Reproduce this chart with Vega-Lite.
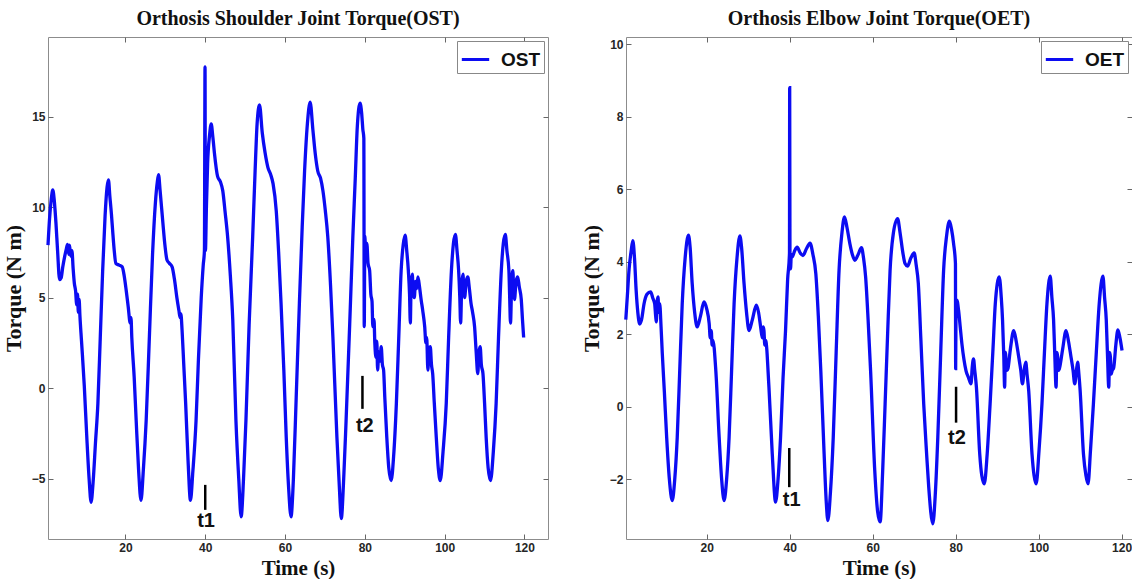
{
  "$schema": "https://vega.github.io/schema/vega-lite/v6.json",
  "padding": {"left": 1, "top": 8, "right": 0, "bottom": 0},
  "spacing": 30,
  "background": "white",
  "resolve": {"scale": {"color": "independent"}, "legend": {"color": "independent"}},
  "config": {
    "view": {"stroke": "#8c8c8c", "strokeWidth": 1},
    "axis": {"labelFont": "Liberation Sans", "labelFontWeight": "bold", "labelFontSize": 12, "labelColor": "#262626", "titleFont": "Liberation Serif", "titleFontWeight": "bold", "titleFontSize": 21, "titleColor": "#111111", "domain": false, "grid": false, "tickColor": "#666666", "tickSize": -5, "labelPadding": 8},
    "axisLeft": {"titleFontSize": 22},
    "title": {"font": "Liberation Serif", "fontWeight": "bold", "fontSize": 20, "color": "#111111", "offset": 8},
    "legend": {"title": null, "orient": "top-right", "offset": 4, "padding": 3, "strokeColor": "#888888", "fillColor": "white", "symbolType": "stroke", "symbolSize": 750, "symbolStrokeWidth": 3, "labelFont": "Liberation Sans", "labelFontWeight": "bold", "labelFontSize": 19, "labelColor": "#111111", "labelOffset": 10}
  },
  "datasets": {
    "ost": [
      {"t":0.6,"v":7.9},{"t":1.0,"v":9.4},{"t":1.4,"v":10.4},{"t":1.8,"v":10.95},{"t":2.2,"v":10.3},{"t":2.6,"v":9.1},{"t":3.0,"v":7.6},{"t":3.5,"v":6.0},{"t":3.9,"v":6.1},{"t":4.3,"v":6.7},{"t":4.8,"v":7.3},{"t":5.2,"v":7.7},{"t":5.5,"v":7.95},{"t":5.8,"v":7.4},{"t":6.0,"v":7.9},{"t":6.3,"v":7.3},{"t":6.6,"v":7.6},{"t":6.9,"v":6.6},{"t":7.2,"v":5.8},{"t":7.5,"v":5.4},{"t":7.8,"v":4.6},{"t":8.0,"v":5.2},{"t":8.2,"v":4.2},{"t":8.4,"v":4.9},{"t":8.6,"v":4.0},{"t":9.0,"v":2.6},{"t":9.7,"v":0.1},{"t":10.3,"v":-2.6},{"t":10.9,"v":-5.0},{"t":11.4,"v":-6.3},{"t":11.9,"v":-5.2},{"t":12.5,"v":-3.0},{"t":13.1,"v":-0.85},{"t":13.7,"v":2.8},{"t":14.3,"v":6.5},{"t":14.9,"v":9.5},{"t":15.4,"v":11.1},{"t":15.75,"v":11.5},{"t":16.1,"v":10.6},{"t":16.5,"v":9.6},{"t":16.8,"v":8.7},{"t":17.2,"v":7.6},{"t":17.6,"v":6.9},{"t":18.4,"v":6.8},{"t":19.2,"v":6.7},{"t":19.7,"v":6.2},{"t":20.2,"v":5.4},{"t":20.7,"v":4.5},{"t":21.2,"v":3.6},{"t":21.4,"v":3.9},{"t":21.6,"v":2.8},{"t":22.2,"v":0.6},{"t":22.7,"v":-1.8},{"t":23.3,"v":-4.5},{"t":23.9,"v":-6.2},{"t":24.5,"v":-4.5},{"t":25.2,"v":-1.8},{"t":26.0,"v":2.8},{"t":26.8,"v":7.4},{"t":27.5,"v":10.2},{"t":28.0,"v":11.4},{"t":28.3,"v":11.8},{"t":28.7,"v":10.9},{"t":29.4,"v":9.1},{"t":29.9,"v":7.9},{"t":30.4,"v":7.1},{"t":31.0,"v":6.9},{"t":31.7,"v":6.7},{"t":32.3,"v":6.0},{"t":32.9,"v":5.0},{"t":33.4,"v":4.3},{"t":33.7,"v":3.9},{"t":33.9,"v":4.1},{"t":34.2,"v":3.2},{"t":34.6,"v":1.4},{"t":35.1,"v":-0.85},{"t":35.7,"v":-4.0},{"t":36.3,"v":-6.2},{"t":36.9,"v":-4.6},{"t":37.7,"v":-1.8},{"t":38.3,"v":1.6},{"t":39.0,"v":5.0},{"t":39.5,"v":6.8},{"t":39.8,"v":7.6},{"t":39.95,"v":17.75},{"t":40.05,"v":7.6},{"t":40.3,"v":10.0},{"t":40.6,"v":12.4},{"t":41.1,"v":14.0},{"t":41.5,"v":14.6},{"t":41.9,"v":13.9},{"t":42.3,"v":13.0},{"t":43.1,"v":11.7},{"t":43.8,"v":11.4},{"t":44.4,"v":10.9},{"t":45.0,"v":9.7},{"t":45.6,"v":8.4},{"t":46.3,"v":6.2},{"t":46.9,"v":3.8},{"t":47.7,"v":-1.8},{"t":48.4,"v":-5.0},{"t":49.0,"v":-7.1},{"t":49.6,"v":-5.0},{"t":50.2,"v":-1.8},{"t":51.0,"v":3.5},{"t":51.9,"v":8.4},{"t":52.5,"v":12.0},{"t":53.0,"v":14.6},{"t":53.6,"v":15.65},{"t":54.3,"v":14.1},{"t":55.0,"v":13.0},{"t":55.7,"v":12.2},{"t":56.4,"v":11.8},{"t":57.0,"v":11.3},{"t":57.8,"v":9.8},{"t":58.4,"v":7.5},{"t":59.0,"v":4.7},{"t":59.7,"v":1.0},{"t":60.3,"v":-2.7},{"t":60.9,"v":-5.5},{"t":61.5,"v":-7.1},{"t":62.1,"v":-5.0},{"t":62.8,"v":-0.5},{"t":63.6,"v":4.7},{"t":64.3,"v":8.9},{"t":64.9,"v":12.0},{"t":65.6,"v":14.6},{"t":66.3,"v":15.8},{"t":66.97,"v":14.3},{"t":67.6,"v":12.9},{"t":68.2,"v":12.0},{"t":68.9,"v":11.6},{"t":69.5,"v":10.9},{"t":70.1,"v":9.8},{"t":70.7,"v":8.4},{"t":71.4,"v":5.7},{"t":72.0,"v":2.8},{"t":73.0,"v":-2.7},{"t":73.6,"v":-5.4},{"t":74.1,"v":-7.2},{"t":74.7,"v":-5.0},{"t":75.3,"v":-1.8},{"t":76.2,"v":3.5},{"t":77.0,"v":8.4},{"t":77.6,"v":11.6},{"t":78.1,"v":14.4},{"t":78.8,"v":15.75},{"t":79.2,"v":15.2},{"t":79.5,"v":14.3},{"t":79.75,"v":13.8},{"t":79.85,"v":3.4},{"t":80.0,"v":8.4},{"t":80.2,"v":7.4},{"t":80.5,"v":8.0},{"t":80.8,"v":6.9},{"t":81.2,"v":6.5},{"t":81.5,"v":5.2},{"t":81.8,"v":4.8},{"t":82.0,"v":3.4},{"t":82.3,"v":3.8},{"t":82.5,"v":2.5},{"t":82.8,"v":1.7},{"t":83.0,"v":2.6},{"t":83.2,"v":1.0},{"t":83.5,"v":2.0},{"t":83.8,"v":1.5},{"t":84.1,"v":2.3},{"t":84.4,"v":1.3},{"t":84.7,"v":1.0},{"t":85.0,"v":-0.5},{"t":85.5,"v":-2.7},{"t":86.0,"v":-4.4},{"t":86.6,"v":-5.1},{"t":87.2,"v":-3.8},{"t":87.9,"v":-0.85},{"t":88.5,"v":2.8},{"t":89.1,"v":6.5},{"t":89.6,"v":7.9},{"t":90.1,"v":8.45},{"t":90.5,"v":7.6},{"t":90.9,"v":6.5},{"t":91.2,"v":5.2},{"t":91.4,"v":3.6},{"t":91.6,"v":5.8},{"t":91.9,"v":6.3},{"t":92.1,"v":5.3},{"t":92.4,"v":5.0},{"t":92.7,"v":5.9},{"t":93.0,"v":5.5},{"t":93.3,"v":6.15},{"t":93.7,"v":5.6},{"t":94.1,"v":4.9},{"t":94.5,"v":4.3},{"t":95.0,"v":3.4},{"t":95.3,"v":2.5},{"t":95.5,"v":2.8},{"t":95.8,"v":1.0},{"t":96.1,"v":2.2},{"t":96.4,"v":2.3},{"t":96.7,"v":1.3},{"t":97.0,"v":0.8},{"t":97.4,"v":-0.8},{"t":97.9,"v":-2.7},{"t":98.4,"v":-4.4},{"t":98.9,"v":-5.1},{"t":99.6,"v":-3.5},{"t":100.4,"v":-0.85},{"t":101.0,"v":2.8},{"t":101.7,"v":6.5},{"t":102.2,"v":8.0},{"t":102.7,"v":8.5},{"t":103.1,"v":7.6},{"t":103.5,"v":6.5},{"t":103.8,"v":5.0},{"t":104.0,"v":3.6},{"t":104.3,"v":5.8},{"t":104.6,"v":6.3},{"t":104.8,"v":5.3},{"t":105.0,"v":5.0},{"t":105.4,"v":5.9},{"t":105.8,"v":6.15},{"t":106.2,"v":5.5},{"t":106.6,"v":4.7},{"t":107.0,"v":4.2},{"t":107.5,"v":3.4},{"t":107.9,"v":2.0},{"t":108.3,"v":0.8},{"t":108.6,"v":2.0},{"t":108.9,"v":2.3},{"t":109.2,"v":1.3},{"t":109.6,"v":0.8},{"t":110.0,"v":-0.8},{"t":110.4,"v":-2.7},{"t":110.9,"v":-4.4},{"t":111.5,"v":-5.1},{"t":112.2,"v":-3.5},{"t":112.9,"v":-0.85},{"t":113.5,"v":2.8},{"t":114.2,"v":6.5},{"t":114.7,"v":8.0},{"t":115.2,"v":8.5},{"t":115.6,"v":7.6},{"t":116.1,"v":6.5},{"t":116.3,"v":5.0},{"t":116.5,"v":3.6},{"t":116.8,"v":5.8},{"t":117.1,"v":6.5},{"t":117.3,"v":5.3},{"t":117.5,"v":4.9},{"t":117.9,"v":5.9},{"t":118.3,"v":6.15},{"t":118.7,"v":5.6},{"t":119.2,"v":4.9},{"t":119.5,"v":3.8},{"t":119.8,"v":2.8}
    ],
    "oet": [
      {"t":0.5,"v":2.4},{"t":0.9,"v":3.1},{"t":1.3,"v":3.8},{"t":1.8,"v":4.3},{"t":2.2,"v":4.58},{"t":2.6,"v":4.1},{"t":3.0,"v":3.2},{"t":3.4,"v":2.6},{"t":3.85,"v":2.28},{"t":4.3,"v":2.4},{"t":4.9,"v":2.84},{"t":5.6,"v":3.1},{"t":6.5,"v":3.17},{"t":7.0,"v":3.0},{"t":7.46,"v":2.84},{"t":7.7,"v":2.5},{"t":7.86,"v":2.34},{"t":8.05,"v":2.9},{"t":8.27,"v":3.03},{"t":8.45,"v":2.6},{"t":8.67,"v":2.84},{"t":9.0,"v":2.2},{"t":9.3,"v":1.46},{"t":9.8,"v":0.4},{"t":10.35,"v":-0.84},{"t":11.0,"v":-2.0},{"t":11.7,"v":-2.59},{"t":12.3,"v":-2.0},{"t":12.9,"v":-0.84},{"t":13.5,"v":1.0},{"t":14.1,"v":2.84},{"t":14.8,"v":4.1},{"t":15.6,"v":4.73},{"t":16.0,"v":4.4},{"t":16.5,"v":3.4},{"t":17.1,"v":2.6},{"t":17.7,"v":2.2},{"t":18.5,"v":2.5},{"t":19.35,"v":2.89},{"t":20.0,"v":2.7},{"t":20.6,"v":2.29},{"t":20.85,"v":1.9},{"t":21.1,"v":2.1},{"t":21.3,"v":1.7},{"t":21.5,"v":1.83},{"t":22.2,"v":0.99},{"t":23.0,"v":-0.84},{"t":23.6,"v":-2.0},{"t":24.2,"v":-2.59},{"t":24.8,"v":-2.0},{"t":25.4,"v":-0.84},{"t":26.0,"v":1.0},{"t":26.6,"v":2.84},{"t":27.3,"v":4.1},{"t":28.0,"v":4.71},{"t":28.4,"v":4.4},{"t":29.0,"v":3.4},{"t":29.6,"v":2.6},{"t":30.2,"v":2.1},{"t":31.0,"v":2.4},{"t":31.96,"v":2.8},{"t":32.5,"v":2.6},{"t":33.0,"v":2.2},{"t":33.4,"v":1.9},{"t":33.6,"v":2.2},{"t":33.8,"v":2.1},{"t":34.0,"v":1.7},{"t":34.2,"v":1.83},{"t":35.0,"v":0.54},{"t":35.8,"v":-1.3},{"t":36.6,"v":-2.63},{"t":37.2,"v":-2.0},{"t":37.8,"v":-0.84},{"t":38.4,"v":0.8},{"t":39.0,"v":2.1},{"t":39.5,"v":3.5},{"t":39.95,"v":4.23},{"t":40.0,"v":8.8},{"t":40.07,"v":4.0},{"t":40.2,"v":3.8},{"t":40.4,"v":4.2},{"t":40.6,"v":4.13},{"t":41.2,"v":4.3},{"t":41.8,"v":4.4},{"t":42.5,"v":4.25},{"t":43.2,"v":4.17},{"t":44.0,"v":4.35},{"t":44.9,"v":4.51},{"t":45.6,"v":4.2},{"t":46.3,"v":3.67},{"t":46.9,"v":2.5},{"t":47.5,"v":0.99},{"t":48.3,"v":-1.3},{"t":48.8,"v":-2.6},{"t":49.2,"v":-3.14},{"t":49.8,"v":-2.4},{"t":50.5,"v":-0.84},{"t":51.2,"v":1.5},{"t":51.9,"v":3.77},{"t":52.6,"v":4.8},{"t":53.2,"v":5.24},{"t":53.8,"v":4.95},{"t":54.5,"v":4.5},{"t":55.1,"v":4.2},{"t":55.7,"v":4.04},{"t":56.5,"v":4.2},{"t":57.3,"v":4.39},{"t":57.8,"v":4.1},{"t":58.3,"v":3.58},{"t":58.9,"v":2.4},{"t":59.5,"v":0.99},{"t":60.5,"v":-1.76},{"t":61.2,"v":-2.9},{"t":61.8,"v":-3.18},{"t":62.4,"v":-1.8},{"t":63.0,"v":0.08},{"t":63.6,"v":2.0},{"t":64.2,"v":3.77},{"t":65.0,"v":4.8},{"t":66.0,"v":5.19},{"t":66.6,"v":4.8},{"t":67.3,"v":4.23},{"t":67.8,"v":3.95},{"t":68.4,"v":3.88},{"t":69.2,"v":4.1},{"t":70.0,"v":4.24},{"t":70.5,"v":3.9},{"t":71.0,"v":3.4},{"t":71.6,"v":1.9},{"t":72.3,"v":0.08},{"t":73.0,"v":-1.3},{"t":73.5,"v":-2.2},{"t":74.5,"v":-3.23},{"t":75.1,"v":-2.4},{"t":75.7,"v":-0.84},{"t":76.4,"v":1.5},{"t":77.1,"v":3.77},{"t":77.8,"v":4.7},{"t":78.5,"v":5.12},{"t":79.0,"v":4.9},{"t":79.5,"v":4.5},{"t":79.95,"v":3.95},{"t":80.0,"v":1.05},{"t":80.1,"v":2.9},{"t":80.3,"v":2.94},{"t":80.7,"v":2.66},{"t":81.1,"v":2.2},{"t":81.5,"v":1.74},{"t":82.0,"v":1.3},{"t":82.5,"v":0.99},{"t":83.1,"v":0.8},{"t":83.7,"v":0.63},{"t":84.0,"v":1.1},{"t":84.3,"v":1.32},{"t":84.6,"v":1.0},{"t":85.0,"v":0.54},{"t":85.8,"v":-1.3},{"t":86.3,"v":-1.9},{"t":86.9,"v":-2.13},{"t":87.6,"v":-1.3},{"t":88.3,"v":0.08},{"t":89.0,"v":1.6},{"t":89.55,"v":2.84},{"t":90.5,"v":3.58},{"t":91.0,"v":3.0},{"t":91.3,"v":2.39},{"t":91.6,"v":1.4},{"t":91.8,"v":0.54},{"t":92.0,"v":1.5},{"t":92.1,"v":1.37},{"t":92.4,"v":1.0},{"t":92.6,"v":1.05},{"t":93.2,"v":1.6},{"t":94.0,"v":2.1},{"t":94.6,"v":1.8},{"t":95.2,"v":1.37},{"t":95.7,"v":1.0},{"t":96.1,"v":0.63},{"t":96.5,"v":1.0},{"t":96.9,"v":1.23},{"t":97.2,"v":0.9},{"t":97.6,"v":0.45},{"t":98.4,"v":-1.3},{"t":98.9,"v":-1.9},{"t":99.4,"v":-2.13},{"t":100.1,"v":-1.2},{"t":100.8,"v":0.08},{"t":101.4,"v":1.5},{"t":102.0,"v":2.84},{"t":102.8,"v":3.6},{"t":103.2,"v":3.0},{"t":103.6,"v":2.39},{"t":103.9,"v":1.4},{"t":104.2,"v":0.54},{"t":104.4,"v":1.5},{"t":104.6,"v":1.37},{"t":104.8,"v":1.0},{"t":105.0,"v":1.05},{"t":105.8,"v":1.6},{"t":106.6,"v":2.1},{"t":107.2,"v":1.8},{"t":107.8,"v":1.37},{"t":108.3,"v":1.0},{"t":108.7,"v":0.63},{"t":109.1,"v":1.0},{"t":109.4,"v":1.23},{"t":109.7,"v":0.9},{"t":110.0,"v":0.45},{"t":110.8,"v":-1.3},{"t":111.4,"v":-1.9},{"t":111.9,"v":-2.13},{"t":112.5,"v":-1.2},{"t":113.2,"v":0.08},{"t":113.9,"v":1.5},{"t":114.6,"v":2.84},{"t":115.5,"v":3.6},{"t":115.9,"v":3.0},{"t":116.3,"v":2.39},{"t":116.6,"v":1.4},{"t":116.9,"v":0.54},{"t":117.1,"v":1.5},{"t":117.3,"v":1.37},{"t":117.5,"v":0.9},{"t":117.7,"v":0.99},{"t":118.1,"v":1.08},{"t":118.6,"v":1.7},{"t":119.1,"v":2.12},{"t":119.6,"v":1.9},{"t":120.1,"v":1.55}
    ]
  },
  "hconcat": [
    {
      "width": 500,
      "height": 502,
      "title": "Orthosis Shoulder Joint Torque(OST)",
      "resolve": {"axis": {"x": "independent", "y": "independent"}},
      "layer": [
        {
          "data": {"name": "ost"},
          "mark": {"type": "line", "strokeWidth": 3.3, "interpolate": "monotone"},
          "encoding": {
            "x": {"field": "t", "type": "quantitative", "scale": {"domain": [0.6, 125.9], "nice": false, "zero": false}, "axis": {"title": "Time (s)", "values": [20, 40, 60, 80, 100, 120], "titlePadding": 4}},
            "y": {"field": "v", "type": "quantitative", "scale": {"domain": [-8.33, 19.4], "nice": false, "zero": false}, "axis": {"title": "Torque (N m)", "values": [-5, 0, 5, 10, 15], "titlePadding": 6}},
            "color": {"datum": "OST", "scale": {"range": ["#0c0cf2"]}}
          }
        },
        {
          "data": {"values": [{"t": 40, "v1": -5.34, "v2": -6.72}, {"t": 79.4, "v1": 0.68, "v2": -1.14}]},
          "mark": {"type": "rule", "color": "black", "strokeWidth": 2.5},
          "encoding": {
            "x": {"field": "t", "type": "quantitative", "scale": {"domain": [0.6, 125.9], "nice": false, "zero": false}, "axis": {"orient": "top", "labels": false, "title": null, "values": [20, 40, 60, 80, 100, 120]}},
            "y": {"field": "v1", "type": "quantitative", "scale": {"domain": [-8.33, 19.4], "nice": false, "zero": false}, "axis": {"orient": "right", "labels": false, "title": null, "values": [-5, 0, 5, 10, 15]}},
            "y2": {"field": "v2"}
          }
        },
        {
          "data": {"values": [{"t": 40.2, "v": -7.36, "label": "t1"}, {"t": 80, "v": -2.08, "label": "t2"}]},
          "mark": {"type": "text", "font": "Liberation Sans", "fontWeight": "bold", "fontSize": 20, "baseline": "middle", "align": "center", "color": "#111111"},
          "encoding": {
            "x": {"field": "t", "type": "quantitative", "scale": {"domain": [0.6, 125.9], "nice": false, "zero": false}, "axis": null},
            "y": {"field": "v", "type": "quantitative", "scale": {"domain": [-8.33, 19.4], "nice": false, "zero": false}, "axis": null},
            "text": {"field": "label"}
          }
        }
      ]
    },
    {
      "width": 506,
      "height": 502,
      "title": "Orthosis Elbow Joint Torque(OET)",
      "resolve": {"axis": {"x": "independent", "y": "independent"}},
      "layer": [
        {
          "data": {"name": "oet"},
          "mark": {"type": "line", "strokeWidth": 3.3, "interpolate": "monotone"},
          "encoding": {
            "x": {"field": "t", "type": "quantitative", "scale": {"domain": [0.55, 122.5], "nice": false, "zero": false}, "axis": {"title": "Time (s)", "values": [20, 40, 60, 80, 100, 120], "titlePadding": 4}},
            "y": {"field": "v", "type": "quantitative", "scale": {"domain": [-3.65, 10.2], "nice": false, "zero": false}, "axis": {"title": "Torque (N m)", "values": [-2, 0, 2, 4, 6, 8, 10], "titlePadding": 6}},
            "color": {"datum": "OET", "scale": {"range": ["#0c0cf2"]}}
          }
        },
        {
          "data": {"values": [{"t": 39.9, "v1": -1.14, "v2": -2.22}, {"t": 80.1, "v1": 0.55, "v2": -0.44}]},
          "mark": {"type": "rule", "color": "black", "strokeWidth": 2.5},
          "encoding": {
            "x": {"field": "t", "type": "quantitative", "scale": {"domain": [0.55, 122.5], "nice": false, "zero": false}, "axis": {"orient": "top", "labels": false, "title": null, "values": [20, 40, 60, 80, 100, 120]}},
            "y": {"field": "v1", "type": "quantitative", "scale": {"domain": [-3.65, 10.2], "nice": false, "zero": false}, "axis": {"orient": "right", "labels": false, "title": null, "values": [-2, 0, 2, 4, 6, 8, 10]}},
            "y2": {"field": "v2"}
          }
        },
        {
          "data": {"values": [{"t": 40.5, "v": -2.58, "label": "t1"}, {"t": 80.3, "v": -0.87, "label": "t2"}]},
          "mark": {"type": "text", "font": "Liberation Sans", "fontWeight": "bold", "fontSize": 20, "baseline": "middle", "align": "center", "color": "#111111"},
          "encoding": {
            "x": {"field": "t", "type": "quantitative", "scale": {"domain": [0.55, 122.5], "nice": false, "zero": false}, "axis": null},
            "y": {"field": "v", "type": "quantitative", "scale": {"domain": [-3.65, 10.2], "nice": false, "zero": false}, "axis": null},
            "text": {"field": "label"}
          }
        }
      ]
    }
  ]
}
